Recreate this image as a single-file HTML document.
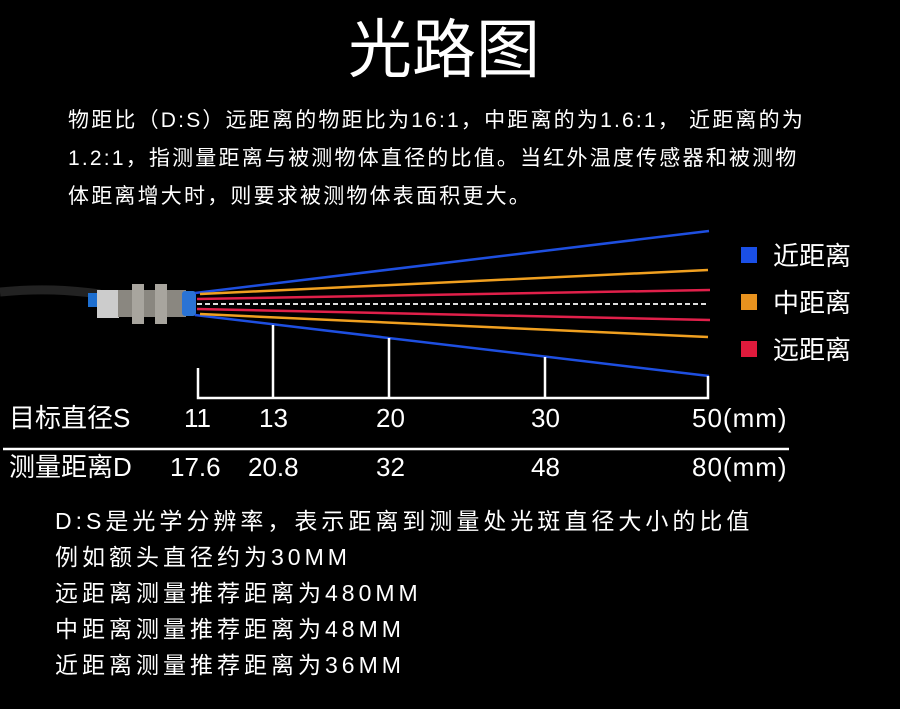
<!DOCTYPE html>
<html><head><meta charset="utf-8"><style>
body{margin:0;background:#000;width:900px;height:709px;overflow:hidden;position:relative;font-family:"Liberation Sans","Noto Sans CJK SC",sans-serif;color:#fff}
.t{position:absolute;white-space:nowrap}
</style></head><body>
<div class="t" style="left:0;width:888px;text-align:center;top:12px;font-size:64px;line-height:76px">光路图</div>
<div class="t" style="left:68px;top:102px;font-size:21px;letter-spacing:2.2px;line-height:38px">物距比（D:S）远距离的物距比为16:1，中距离的为1.6:1， 近距离的为<br>1.2:1，指测量距离与被测物体直径的比值。当红外温度传感器和被测物<br>体距离增大时，则要求被测物体表面积更大。</div>
<svg width="900" height="709" style="position:absolute;left:0;top:0">
<path d="M0,292 C40,288 70,290 100,294" stroke="#222" stroke-width="9" fill="none"/>
<rect x="88" y="293" width="12" height="14" fill="#1e6fd0"/>
<rect x="97" y="290" width="22" height="28" fill="#ccc"/>
<rect x="118" y="290" width="68" height="27" fill="#8a8780"/>
<rect x="132" y="284" width="12" height="40" fill="#a8a59e"/>
<rect x="155" y="284" width="12" height="40" fill="#a8a59e"/>
<rect x="182" y="291" width="14" height="25" rx="3" fill="#2a73d4"/>
<line x1="195" y1="293" x2="709" y2="231" stroke="#1e4fe0" stroke-width="2.5"/>
<line x1="195" y1="315" x2="709" y2="376" stroke="#1e4fe0" stroke-width="2.5"/>
<line x1="200" y1="294" x2="708" y2="270" stroke="#f0a020" stroke-width="2.5"/>
<line x1="200" y1="314" x2="708" y2="337" stroke="#f0a020" stroke-width="2.5"/>
<line x1="197" y1="299" x2="710" y2="290" stroke="#e0204a" stroke-width="2.5"/>
<line x1="197" y1="309" x2="710" y2="320" stroke="#e0204a" stroke-width="2.5"/>
<line x1="197" y1="304" x2="707" y2="304" stroke="#ddd" stroke-width="2" stroke-dasharray="5,3"/>
<g stroke="#fff" stroke-width="2.5" fill="none">
<path d="M198,368 V398 H708 V376"/>
<line x1="273" y1="325" x2="273" y2="398"/>
<line x1="389" y1="338" x2="389" y2="398"/>
<line x1="545" y1="357" x2="545" y2="398"/>
</g>
<line x1="3" y1="449" x2="789" y2="449" stroke="#fff" stroke-width="2.5"/>
<rect x="741" y="247" width="16" height="16" fill="#1a4fe6"/>
<rect x="741" y="294" width="16" height="16" fill="#e8921e"/>
<rect x="741" y="341" width="16" height="16" fill="#e01a3c"/>
</svg>
<div class="t" style="left:773px;top:239px;font-size:26px;line-height:34px">近距离</div>
<div class="t" style="left:773px;top:286px;font-size:26px;line-height:34px">中距离</div>
<div class="t" style="left:773px;top:333px;font-size:26px;line-height:34px">远距离</div>
<div style="position:absolute;top:401px;font-size:26px;line-height:34px">
<span class="t" style="left:9px">目标直径S</span>
<span class="t" style="left:184px">11</span>
<span class="t" style="left:259px">13</span>
<span class="t" style="left:376px">20</span>
<span class="t" style="left:531px">30</span>
<span class="t" style="left:692px;letter-spacing:1px">50(mm)</span>
</div>
<div style="position:absolute;top:450px;font-size:26px;line-height:34px">
<span class="t" style="left:9px">测量距离D</span>
<span class="t" style="left:170px">17.6</span>
<span class="t" style="left:248px">20.8</span>
<span class="t" style="left:376px">32</span>
<span class="t" style="left:531px">48</span>
<span class="t" style="left:692px;letter-spacing:1px">80(mm)</span>
</div>
<div class="t" style="left:55px;top:503px;font-size:23px;letter-spacing:4px;line-height:36px">D:S是光学分辨率，表示距离到测量处光斑直径大小的比值<br>例如额头直径约为30MM<br>远距离测量推荐距离为480MM<br>中距离测量推荐距离为48MM<br>近距离测量推荐距离为36MM</div>
</body></html>
